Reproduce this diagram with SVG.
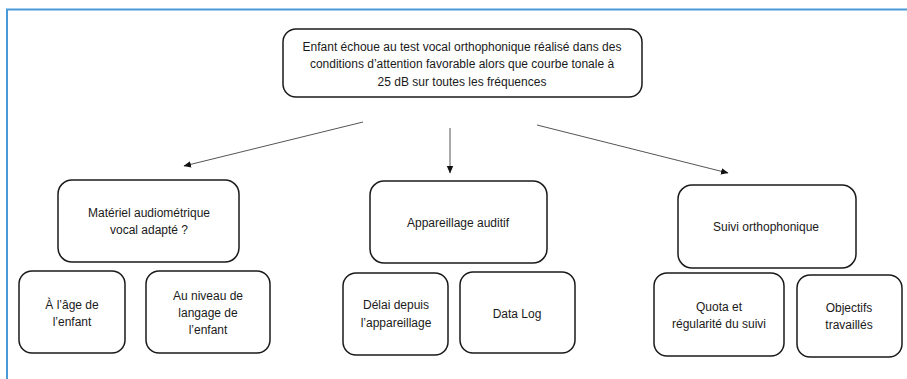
<svg xmlns="http://www.w3.org/2000/svg" width="907" height="379" viewBox="0 0 907 379">
<style>
.box{fill:#fff;stroke:#1a1a1a;stroke-width:1.5}
.t{font-family:"Liberation Sans",Arial,sans-serif;font-size:12px;fill:#1a1a1a;text-anchor:middle}
.c{stroke:#555;stroke-width:1;fill:none}
</style>
<defs>
<marker id="ah" markerWidth="8" markerHeight="8" refX="7" refY="4" orient="auto" markerUnits="userSpaceOnUse">
<path d="M0,0.8 L7.5,4 L0,7.2 Z" fill="#111"/>
</marker>
</defs>
<rect x="0" y="0" width="907" height="379" fill="#fff"/>
<path d="M7,379 V9.5 H907" fill="none" stroke="#4a9ad8" stroke-width="2"/>
<g id="connectors">
<line class="c" x1="363" y1="122" x2="184" y2="166" marker-end="url(#ah)"/>
<line class="c" x1="450" y1="128" x2="450" y2="173" marker-end="url(#ah)"/>
<line class="c" x1="537" y1="125" x2="728" y2="173" marker-end="url(#ah)"/>
</g>
<g id="root">
<rect class="box" x="283" y="29" width="359" height="68" rx="13"/>
<text class="t" x="462" y="50.5">Enfant échoue au test vocal orthophonique réalisé dans des</text>
<text class="t" x="462" y="68">conditions d’attention favorable alors que courbe tonale à</text>
<text class="t" x="462" y="85.5">25 dB sur toutes les fréquences</text>
</g>
<g id="materiel">
<rect class="box" x="58" y="180" width="181" height="82" rx="14"/>
<text class="t" x="149" y="216.5">Matériel audiométrique</text>
<text class="t" x="149" y="233.5">vocal adapté ?</text>
</g>
<g id="age">
<rect class="box" x="19" y="271" width="106" height="82" rx="13"/>
<text class="t" x="72" y="308.5">À l’âge de</text>
<text class="t" x="72" y="325.5">l’enfant</text>
</g>
<g id="niveau">
<rect class="box" x="146" y="271" width="124" height="82" rx="13"/>
<text class="t" x="208" y="299.5">Au niveau de</text>
<text class="t" x="208" y="316.5">langage de</text>
<text class="t" x="208" y="333.5">l’enfant</text>
</g>
<g id="appareillage">
<rect class="box" x="370" y="181" width="177" height="82" rx="14"/>
<text class="t" x="458" y="226.5">Appareillage auditif</text>
</g>
<g id="delai">
<rect class="box" x="343" y="273" width="105" height="82" rx="13"/>
<text class="t" x="396" y="308.5">Délai depuis</text>
<text class="t" x="396" y="326.5">l’appareillage</text>
</g>
<g id="datalog">
<rect class="box" x="460" y="272" width="115" height="81" rx="13"/>
<text class="t" x="517" y="317.5">Data Log</text>
</g>
<g id="suivi">
<rect class="box" x="678" y="185" width="178" height="83" rx="14"/>
<text class="t" x="766" y="230.5">Suivi orthophonique</text>
</g>
<g id="quota">
<rect class="box" x="654" y="273" width="130" height="83" rx="13"/>
<text class="t" x="719" y="310.5">Quota et</text>
<text class="t" x="719" y="327.5">régularité du suivi</text>
</g>
<g id="objectifs">
<rect class="box" x="797" y="275" width="105" height="82" rx="13"/>
<text class="t" x="849" y="311.5">Objectifs</text>
<text class="t" x="849" y="328.5">travaillés</text>
</g>
</svg>
